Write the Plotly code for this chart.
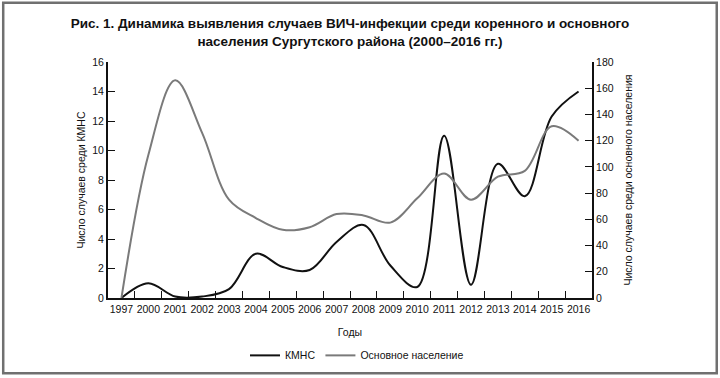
import plotly.graph_objects as go

years = ["1997", "2000", "2001", "2002", "2003", "2004", "2005", "2006", "2007",
         "2008", "2009", "2010", "2011", "2012", "2013", "2014", "2015", "2016"]
kmns = [0, 1.0, 0.1, 0.1, 0.6, 3.0, 2.1, 1.9, 3.8, 4.95, 2.2, 0.75, 11.0, 0.9, 9.1, 6.9, 12.3, 14.0]
main_pop = [0, 109, 166, 126, 75, 61, 52, 54, 64, 63, 57.5, 76, 95, 75, 92.5, 97, 131, 120]

FONT = "Liberation Sans, Arial, sans-serif"

fig = go.Figure()
fig.add_trace(go.Scatter(x=years, y=kmns, name="КМНС", mode="lines",
                         line=dict(color="#111111", width=2, shape="spline", smoothing=1.0),
                         yaxis="y"))
fig.add_trace(go.Scatter(x=years, y=main_pop, name="Основное население", mode="lines",
                         line=dict(color="#7a7a7a", width=2, shape="spline", smoothing=1.0),
                         yaxis="y2"))

L, R, T, B = 107.5, 127.5, 62, 79.5
W, H = 720, 378
pw, ph = W - L - R, H - T - B

def px(xp):
    return (xp - L) / pw

def py(yp):
    return (H - B - yp) / ph

fig.update_layout(
    width=W, height=H,
    margin=dict(l=L, r=R, t=T, b=B, autoexpand=False),
    paper_bgcolor="white", plot_bgcolor="white",
    font=dict(family=FONT, size=10.5, color="#111111"),
    title=dict(text="<b>Рис. 1. Динамика выявления случаев ВИЧ-инфекции среди коренного и основного<br>населения Сургутского района (2000–2016 гг.)</b>",
               x=0.5, xref="paper", xanchor="center", y=1 - 28 / H, yref="container", yanchor="top",
               font=dict(family=FONT, size=13.5, color="#111111")),
    xaxis=dict(type="category", range=[-0.5, 17.5], showline=True, linecolor="#111111", linewidth=2,
               ticks="inside", tickson="boundaries", ticklen=7, tickcolor="#111111", tickwidth=1,
               showgrid=False, zeroline=False, tickfont=dict(size=10.5), tickangle=0,
               automargin=False,
               title=dict(text="Годы", font=dict(size=10.5), standoff=15)),
    yaxis=dict(range=[0, 16], dtick=2, showline=True, linecolor="#111111", linewidth=2,
               ticks="inside", ticklen=7, tickcolor="#111111", tickwidth=1,
               showgrid=False, zeroline=False, tickfont=dict(size=10.5), automargin=False,
               title=dict(text="Число случаев среди КМНС", font=dict(size=10.5), standoff=5)),
    yaxis2=dict(range=[0, 180], dtick=20, overlaying="y", side="right", showline=True,
                linecolor="#111111", linewidth=2, ticks="inside", ticklen=7, tickcolor="#111111",
                tickwidth=1, showgrid=False, zeroline=False, tickfont=dict(size=10.5), automargin=False,
                title=dict(text="Число случаев среди основного населения", font=dict(size=10.5), standoff=12)),
    legend=dict(orientation="h", x=px(357), xanchor="center", y=py(356), yanchor="middle",
                font=dict(size=10.5), bgcolor="rgba(0,0,0,0)"),
    showlegend=True,
    shapes=[dict(type="rect", xref="paper", yref="paper",
                 x0=px(2.5), x1=px(717.5), y0=py(374), y1=py(2.5),
                 line=dict(color="#707070", width=2.5), fillcolor="rgba(0,0,0,0)", layer="below")],
)

fig.write_html("out.html", config={"displayModeBar": False},
               post_script="document.body.style.margin='0';document.body.style.padding='0';")
